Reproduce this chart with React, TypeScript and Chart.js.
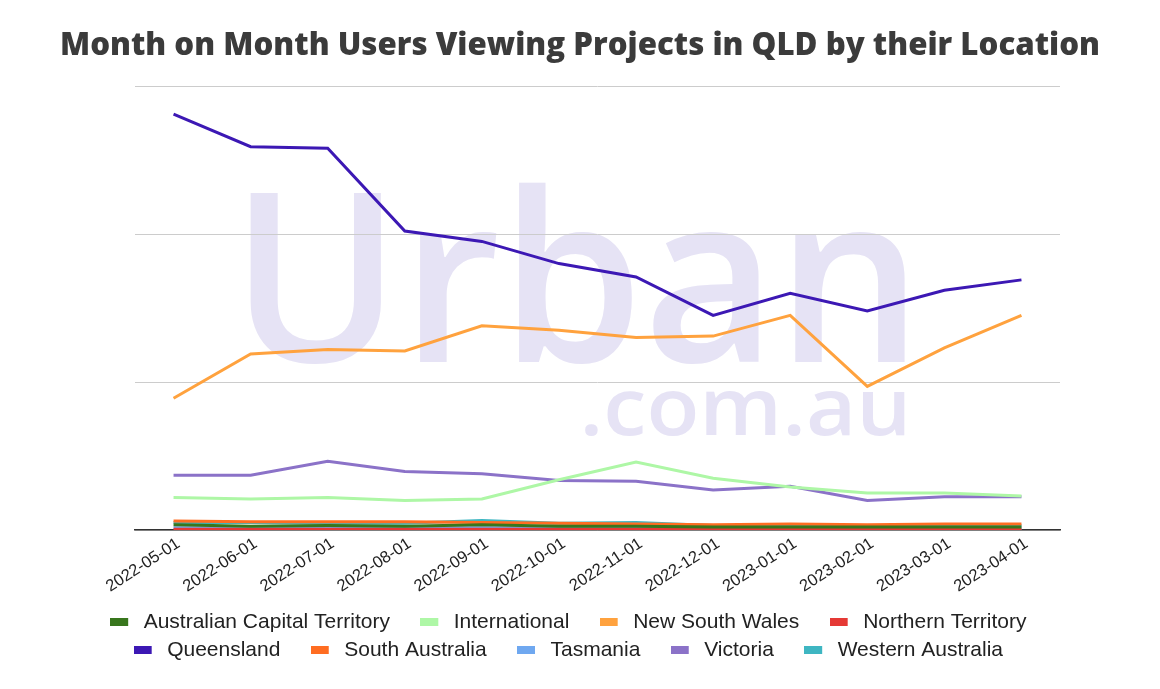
import React, { useEffect, useRef } from 'react';
import { Chart, registerables } from 'chart.js';

Chart.register(...registerables);

const TITLE = 'Month on Month Users Viewing Projects in QLD by their Location';
const WATERMARK_MAIN = 'Urban';
const WATERMARK_SUB = '.com.au';

const MONTHS = [
  '2022-05-01', '2022-06-01', '2022-07-01', '2022-08-01', '2022-09-01', '2022-10-01',
  '2022-11-01', '2022-12-01', '2023-01-01', '2023-02-01', '2023-03-01', '2023-04-01',
];

const SERIES_NAMES = [
  'Australian Capital Territory', 'International', 'New South Wales', 'Northern Territory',
  'Queensland', 'South Australia', 'Tasmania', 'Victoria', 'Western Australia',
];

const ACT = [35, 25, 30, 25, 35, 25, 25, 20, 20, 20, 20, 20];
const INTERNATIONAL = [220, 210, 220, 200, 210, 340, 460, 350, 290, 250, 250, 230];
const NSW = [890, 1190, 1220, 1210, 1380, 1350, 1300, 1310, 1450, 970, 1230, 1450];
const NT = [5, 5, 5, 5, 5, 5, 5, 5, 5, 5, 5, 5];
const QLD = [2810, 2590, 2580, 2020, 1950, 1800, 1710, 1450, 1600, 1480, 1620, 1690];
const SA = [60, 55, 55, 55, 50, 45, 40, 35, 40, 35, 40, 40];
const TAS = [15, 15, 15, 15, 15, 15, 15, 10, 10, 10, 10, 10];
const VIC = [370, 370, 465, 395, 380, 335, 330, 270, 295, 200, 225, 225];
const WA = [50, 50, 45, 45, 65, 45, 50, 30, 30, 30, 30, 30];

const SERIES_VALUES = [ACT, INTERNATIONAL, NSW, NT, QLD, SA, TAS, VIC, WA];
const SERIES_COLORS = [
  '#38761d', '#aef7a6', '#ffa23e', '#e53935', '#3c18b4', '#ff6d22', '#6fa8f0', '#8b72c8', '#3eb6c2',
];

const Y_MAX = 3000;
const Y_STEP = 1000;

function makeSwatch(color: string) {
  const c = document.createElement('canvas');
  c.width = 23;
  c.height = 8;
  const g = c.getContext('2d')!;
  g.fillStyle = color;
  g.fillRect(0, 0, 18, 8);
  return c;
}

const watermarkPlugin = {
  id: 'urbanWatermark',
  beforeDraw(chart: any) {
    const ctx = chart.ctx as CanvasRenderingContext2D;
    const drawFit = (text: string, font: string, left: number, right: number, baseline: number) => {
      ctx.save();
      ctx.font = font;
      ctx.textAlign = 'left';
      ctx.textBaseline = 'alphabetic';
      const m = ctx.measureText(text);
      const vis = m.actualBoundingBoxLeft + m.actualBoundingBoxRight;
      const sx = (right - left) / vis;
      ctx.translate(left + m.actualBoundingBoxLeft * sx, baseline);
      ctx.scale(sx, 1);
      ctx.fillStyle = '#e6e3f5';
      ctx.fillText(text, 0, 0);
      ctx.restore();
    };
    drawFit(WATERMARK_MAIN, '600 236px "Open Sans"', 250, 905, 362);
    drawFit(WATERMARK_SUB, '600 80px "Open Sans"', 585, 905, 435);
  },
};

export default function App() {
  const ref = useRef<HTMLCanvasElement | null>(null);

  useEffect(() => {
    if (!ref.current) return;
    const chart = new Chart(ref.current, {
      type: 'line',
      data: {
        labels: MONTHS,
        datasets: SERIES_NAMES.map((name, i) => ({
          label: name,
          data: SERIES_VALUES[i],
          borderColor: SERIES_COLORS[i],
          backgroundColor: SERIES_COLORS[i],
          borderWidth: 3,
          pointRadius: 0,
          pointHoverRadius: 0,
          tension: 0,
          fill: false,
        })),
      },
      options: {
        responsive: false,
        animation: false,
        devicePixelRatio: 1,
        layout: { padding: { left: 60, right: 60, top: 0, bottom: 18.5 } },
        plugins: {
          title: {
            display: true,
            text: TITLE,
            color: '#3b3b3b',
            font: { family: '"Open Sans"', size: 32, weight: '800' },
            padding: { top: 26.5, bottom: 21.1 },
          },
          legend: {
            display: true,
            position: 'bottom',
            labels: {
              color: '#222222',
              font: { family: '"Liberation Sans", Arial', size: 21 },
              usePointStyle: true,
              pointStyleWidth: 23,
              boxHeight: 8,
              padding: 7,
              generateLabels: (c: any) => {
                const items = (Chart.defaults.plugins.legend.labels as any).generateLabels(c);
                return items.map((it: any, i: number) => ({
                  ...it,
                  text: it.text + '    ',
                  pointStyle: makeSwatch(SERIES_COLORS[i]),
                }));
              },
            },
          },
          tooltip: { enabled: false },
        },
        scales: {
          x: {
            offset: true,
            grid: { display: false },
            border: { display: true, color: '#333333', width: 1.5 },
            ticks: {
              color: '#222222',
              font: { family: '"Liberation Sans", Arial', size: 16.5 },
              minRotation: 33,
              maxRotation: 33,
              autoSkip: false,
              padding: -4,
              labelOffset: 5,
            },
            afterFit: (s: any) => { s.height = 74.5; },
          },
          y: {
            min: 0,
            max: Y_MAX,
            ticks: { display: false, stepSize: Y_STEP },
            grid: { color: '#cccccc', lineWidth: 1, drawTicks: false },
            border: { display: false },
            afterFit: (s: any) => { s.width = 75; },
          },
          y2: {
            position: 'right',
            display: true,
            min: 0,
            max: 1,
            ticks: { display: false },
            grid: { display: false, drawTicks: false },
            border: { display: false },
            afterFit: (s: any) => { s.width = 40; },
          },
        },
      },
      plugins: [watermarkPlugin],
    });
    return () => chart.destroy();
  }, []);

  return (
    <div style={{ position: 'absolute', left: 0, top: 0, width: 1160, height: 689, background: '#ffffff' }}>
      <canvas ref={ref} width={1160} height={689} style={{ display: 'block' }} />
    </div>
  );
}
